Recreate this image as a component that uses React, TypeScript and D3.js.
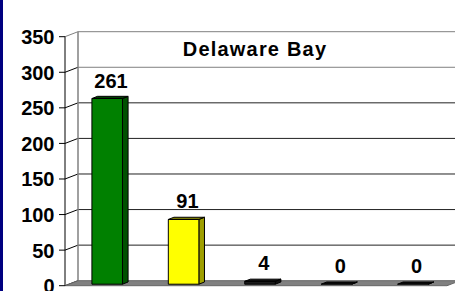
import React from 'react'
import * as d3 from 'd3'

const categories = ['Cat 1', 'Cat 2', 'Cat 3', 'Cat 4', 'Cat 5']
const counts = [261, 91, 4, 0, 0]
const barColors = ['#008000', '#FFFF00', '#1a1a1a', '#1a1a1a', '#1a1a1a']
const yTicks = [0, 50, 100, 150, 200, 250, 300, 350]
const title = 'Delaware Bay'

const W = 455
const H = 291
const FONT = '"Liberation Sans", Arial, sans-serif'

// wall depth and bar depth (3D offsets)
const DX = 13
const DY = -5
const BAR_OX = 4
const BAR_OY = -1.5
const BAR_DX = 5.6
const BAR_DY = -2.2

export default function App() {
  const y = d3.scaleLinear().domain([0, 350]).range([285.7, 36.7])
  const x = d3.scaleBand<string>().domain(categories).range([65, 447]).paddingInner(0.6).paddingOuter(0.3)
  const bw = x.bandwidth()
  const x0 = 65
  const x1 = 447
  const y0 = y(0)

  const shade = (c: string, k: number) => d3.color(c)!.darker(k).formatHex()

  return (
    <svg width={W} height={H} style={{ position: 'absolute', left: 0, top: 0, background: '#fff' }}>
      <rect x={0} y={0} width={W} height={H} fill="#fff" />
      <rect x={0} y={0} width={3} height={H} fill="#000080" />

      {/* back wall gridlines */}
      {yTicks.filter((t) => t > 0).map((t) => (
        <line key={'g' + t} x1={x0 + DX} x2={x1 + DX} y1={y(t) + DY} y2={y(t) + DY}
          stroke={t === 350 || t === 300 ? '#808080' : '#222'} strokeWidth={1} />
      ))}
      {/* side wall diagonals */}
      {yTicks.map((t) => (
        <line key={'s' + t} x1={x0} y1={y(t)} x2={x0 + DX} y2={y(t) + DY}
          stroke={t === 350 ? '#808080' : '#000'} strokeWidth={1} />
      ))}
      <line x1={x0 + DX} x2={x0 + DX} y1={y(0) + DY} y2={y(350) + DY} stroke="#808080" strokeWidth={1.5} />

      {/* floor */}
      <polygon
        points={`${x0},${y0} ${x1},${y0} ${x1 + DX},${y0 + DY} ${x0 + DX},${y0 + DY}`}
        fill="#808080" stroke="#666" strokeWidth={1} />

      {/* bars */}
      {categories.map((c, i) => {
        const v = counts[i]
        const bx = x(c)! + BAR_OX
        const top = y(v) + BAR_OY
        const bot = y0 + BAR_OY
        const col = barColors[i]
        return (
          <g key={c} stroke="#000" strokeWidth={1} strokeLinejoin="round">
            <polygon fill={shade(col, 1.3)}
              points={`${bx + bw},${bot} ${bx + bw + BAR_DX},${bot + BAR_DY} ${bx + bw + BAR_DX},${top + BAR_DY} ${bx + bw},${top}`} />
            <rect x={bx} y={top} width={bw} height={Math.max(0, bot - top)} fill={col} />
            <polygon fill={shade(col, 2)}
              points={`${bx},${top} ${bx + bw},${top} ${bx + bw + BAR_DX},${top + BAR_DY} ${bx + BAR_DX},${top + BAR_DY}`} />
          </g>
        )
      })}

      {/* value labels */}
      {categories.map((c, i) => (
        <text key={'l' + c} x={x(c)! + BAR_OX + (bw + BAR_DX) / 2 + 1} y={y(counts[i]) + BAR_OY - 18.5 + 7.5}
          textAnchor="middle" fontFamily={FONT} fontWeight="bold" fontSize={20} fill="#000">
          {counts[i]}
        </text>
      ))}

      {/* front axis */}
      <line x1={x0} x2={x0} y1={y(0)} y2={y(350)} stroke="#000" strokeWidth={1} />
      {yTicks.map((t) => (
        <g key={'t' + t}>
          <line x1={59} x2={x0} y1={y(t)} y2={y(t)} stroke="#000" strokeWidth={1} />
          <text x={54.5} y={y(t) + 7.5} textAnchor="end" fontFamily={FONT} fontWeight="bold" fontSize={20} fill="#000">
            {t}
          </text>
        </g>
      ))}

      <text x={255} y={55.7} textAnchor="middle" fontFamily={FONT} fontWeight="bold" fontSize={20}
        letterSpacing={1.2} fill="#000">
        {title}
      </text>
    </svg>
  )
}
